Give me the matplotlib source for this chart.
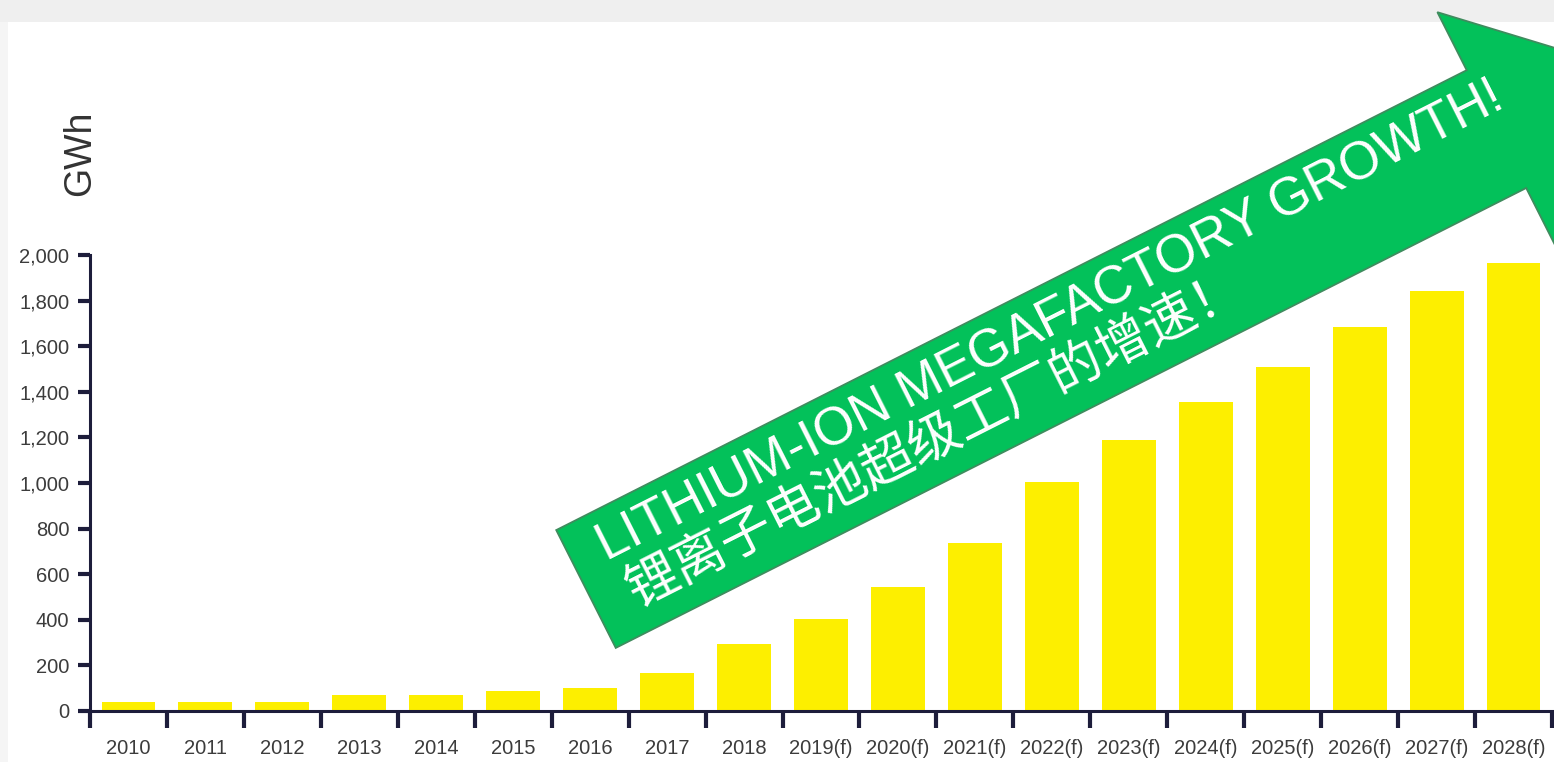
import numpy as np
import matplotlib
matplotlib.use("Agg")
import matplotlib.pyplot as plt
from matplotlib.patches import Polygon, Rectangle

# data
years = ["2010", "2011", "2012", "2013", "2014", "2015", "2016", "2017", "2018",
         "2019(f)", "2020(f)", "2021(f)", "2022(f)", "2023(f)", "2024(f)",
         "2025(f)", "2026(f)", "2027(f)", "2028(f)"]
gwh = [40, 40, 38, 72, 72, 88, 100, 167, 292, 405, 543, 736, 1003, 1188,
       1354, 1508, 1684, 1840, 1966]
y_ticks = [0, 200, 400, 600, 800, 1000, 1200, 1400, 1600, 1800, 2000]

title_en = "LITHIUM-ION MEGAFACTORY GROWTH!"
title_zh = "锂离子电池超级工厂的增速！"

W, H = 1554, 762
NAVY = "#1d1d3b"
LABEL = "#3c3c3c"
sans = ["Liberation Sans", "DejaVu Sans"]

fig = plt.figure(figsize=(W / 100, H / 100), dpi=100)
fig.patch.set_facecolor("white")

# screenshot-ish grey border
fig.add_artist(Rectangle((0, 1 - 22 / H), 1, 22 / H, transform=fig.transFigure,
                         facecolor="#efefef", edgecolor="none", zorder=-1))
fig.add_artist(Rectangle((0, 0), 8 / W, 1 - 22 / H, transform=fig.transFigure,
                         facecolor="#f5f5f5", edgecolor="none", zorder=-1))

ax = fig.add_axes([90 / W, 1 - 711 / H, (1552 - 90) / W, (711 - 255) / H])
x = np.arange(len(years))
ax.bar(x, gwh, width=0.70, color="#fdef00", zorder=2)

ax.set_xlim(-0.5, len(years) - 0.5)
ax.set_ylim(0, 2000)

ax.set_xticks(np.arange(-0.5, len(years), 1))
ax.set_xticklabels([])
ax.set_xticks(x, minor=True)
ax.set_xticklabels(years, minor=True, fontsize=14.5, family=sans, color=LABEL)
ax.tick_params(axis="x", which="major", length=12, width=3, color=NAVY, direction="out")
ax.tick_params(axis="x", which="minor", length=0, pad=20)

ax.set_yticks(y_ticks)
ax.set_yticklabels([f"{v:,}" for v in y_ticks], fontsize=14.5, family=sans, color=LABEL)
ax.tick_params(axis="y", length=9, width=3, color=NAVY, pad=6)

for s in ["top", "right"]:
    ax.spines[s].set_visible(False)
for s in ["left", "bottom"]:
    ax.spines[s].set_color(NAVY)
    ax.spines[s].set_linewidth(2.2)
ax.set_facecolor("none")

fig.text(80 / W, 1 - 153 / H, "GWh", rotation=90, ha="center", va="center",
         fontsize=27, family=sans, color="#333333")

# green arrow overlay (pixel geometry, y downwards)
theta = np.deg2rad(26.8)
u = np.array([np.cos(theta), -np.sin(theta)])
n = np.array([-np.sin(theta), -np.cos(theta)])
c0 = np.array([586.0, 589.0])
w, hw, L, hl = 66, 131, 1020, 137
pts = [c0 + w * n, c0 + L * u + w * n, c0 + L * u + hw * n, c0 + (L + hl) * u,
       c0 + L * u - hw * n, c0 + L * u - w * n, c0 - w * n]
pts = [(p[0] / W, 1 - p[1] / H) for p in pts]
fig.add_artist(Polygon(pts, closed=True, transform=fig.transFigure,
                       facecolor="#03c15a", edgecolor="#3f8c5e", linewidth=1.3,
                       clip_on=False, zorder=5))

p_en = c0 + 535 * u + 29 * n
p_zh = c0 + 379 * u - 24 * n
fig.text(p_en[0] / W, 1 - p_en[1] / H, title_en, rotation=26.8, rotation_mode="anchor",
         ha="center", va="center", fontsize=38, color="white", family=sans, zorder=6)
fig.text(p_zh[0] / W, 1 - p_zh[1] / H, title_zh, rotation=26.8, rotation_mode="anchor",
         ha="center", va="center", fontsize=38, color="white", weight="light",
         family=["Noto Sans CJK SC", "DejaVu Sans"], zorder=6)

fig.savefig("out.png", dpi=100)
